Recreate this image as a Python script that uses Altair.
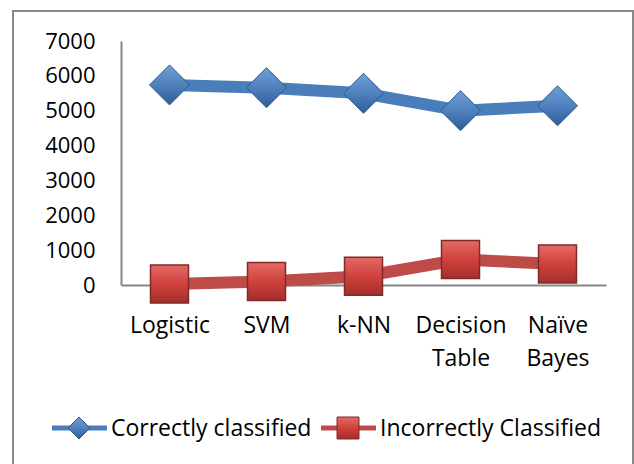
import altair as alt
import pandas as pd

# Classifier results (number of instances)
models = ["Logistic", "SVM", "k-NN", "Decision Table", "Naïve Bayes"]
correct = [5740, 5660, 5500, 5000, 5140]
incorrect = [30, 100, 250, 730, 600]
series_names = ["Correctly classified", "Incorrectly Classified"]

rows = []
for m, c, i in zip(models, correct, incorrect):
    rows.append({"model": m, "series": series_names[0], "value": c})
    rows.append({"model": m, "series": series_names[1], "value": i})
df = pd.DataFrame(rows)

FONT = "Open Sans"
FSIZE = 23
BLUE_LINE = "#4A7EBB"
RED_LINE = "#BE4B48"
AXIS_GRAY = "#868686"

x_enc = alt.X(
    "model:N",
    sort=models,
    scale=alt.Scale(type="point", padding=0.5),
    axis=alt.Axis(
        title=None,
        labelAngle=0,
        labelFont=FONT,
        labelFontSize=FSIZE,
        labelColor="#000000",
        labelPadding=29,
        labelLineHeight=33,
        labelBaseline="top",
        labelExpr="split(datum.label, ' ')",
        ticks=False,
        domainColor=AXIS_GRAY,
        domainWidth=2,
    ),
)
y_enc = alt.Y(
    "value:Q",
    scale=alt.Scale(domain=[0, 7000], nice=False),
    axis=alt.Axis(
        title=None,
        values=list(range(0, 7001, 1000)),
        format="d",
        labelFont=FONT,
        labelFontSize=22,
        labelColor="#000000",
        labelPadding=26,
        ticks=False,
        grid=False,
        domainColor=AXIS_GRAY,
        domainWidth=2,
    ),
)

base = alt.Chart(df)

lines = base.mark_line(strokeWidth=12, strokeJoin="round").encode(
    x=x_enc,
    y=y_enc,
    color=alt.Color(
        "series:N",
        scale=alt.Scale(domain=series_names, range=[BLUE_LINE, RED_LINE]),
        legend=None,
    ),
    detail="series:N",
)

diamond_fill = alt.Gradient(
    gradient="linear", x1=0, y1=0, x2=0, y2=1,
    stops=[alt.GradientStop(offset=0, color="#6F9FDB"),
           alt.GradientStop(offset=0.5, color="#4F81BD"),
           alt.GradientStop(offset=1, color="#2F5D95")],
)
square_fill = alt.Gradient(
    gradient="linear", x1=0, y1=0, x2=0, y2=1,
    stops=[alt.GradientStop(offset=0, color="#E46A66"),
           alt.GradientStop(offset=0.5, color="#D0413D"),
           alt.GradientStop(offset=1, color="#A52E2B")],
)

diamonds = base.transform_filter(
    alt.datum.series == series_names[0]
).mark_point(
    shape="diamond", size=1600, filled=True, fill=diamond_fill,
    stroke="#2F5A8C", strokeWidth=1, opacity=1,
).encode(x=x_enc, y=y_enc)

squares = base.transform_filter(
    alt.datum.series == series_names[1]
).mark_point(
    shape="square", size=1444, filled=True, fill=square_fill,
    stroke="#7E2C2A", strokeWidth=1.5, opacity=1,
).encode(x=x_enc, y=y_enc)

# Outer chart frame
frame = alt.Chart(pd.DataFrame({"k": [0]})).mark_rect(
    fill=None, stroke="#8A8A8A", strokeWidth=2, clip=False
).encode(
    x=alt.value(-108), x2=alt.value(512),
    y=alt.value(-30), y2=alt.value(440),
)

# Legend entries
legend_src = alt.Chart(pd.DataFrame({"k": [0]}))
leg_y = 387
leg_blue_line = legend_src.mark_rule(color=BLUE_LINE, strokeWidth=5).encode(
    x=alt.value(-69), x2=alt.value(-14), y=alt.value(leg_y)
)
leg_blue_mark = legend_src.mark_point(
    shape="diamond", size=484, filled=True, fill=diamond_fill,
    stroke="#2F5A8C", strokeWidth=1, opacity=1,
).encode(x=alt.value(-42), y=alt.value(leg_y))
leg_blue_text = legend_src.mark_text(
    text=series_names[0], font=FONT, fontSize=FSIZE, align="left",
    baseline="middle", color="#000000",
).encode(x=alt.value(-10), y=alt.value(leg_y + 1))

leg_red_line = legend_src.mark_rule(color=RED_LINE, strokeWidth=5).encode(
    x=alt.value(200), x2=alt.value(255), y=alt.value(leg_y)
)
leg_red_mark = legend_src.mark_point(
    shape="square", size=484, filled=True, fill=square_fill,
    stroke="#7E2C2A", strokeWidth=1, opacity=1,
).encode(x=alt.value(227), y=alt.value(leg_y))
leg_red_text = legend_src.mark_text(
    text=series_names[1], font=FONT, fontSize=FSIZE, align="left",
    baseline="middle", color="#000000",
).encode(x=alt.value(259), y=alt.value(leg_y + 1))

chart = alt.layer(
    frame, lines, diamonds, squares,
    leg_blue_line, leg_blue_mark, leg_blue_text,
    leg_red_line, leg_red_mark, leg_red_text,
).properties(
    width=485,
    height=244,
    autosize=alt.AutoSizeParams(type="none"),
    padding={"left": 121, "top": 41, "right": 28, "bottom": 179},
    background="white",
).configure_view(stroke=None)

chart.save("out.html", embed_options={"renderer": "svg", "actions": False})
